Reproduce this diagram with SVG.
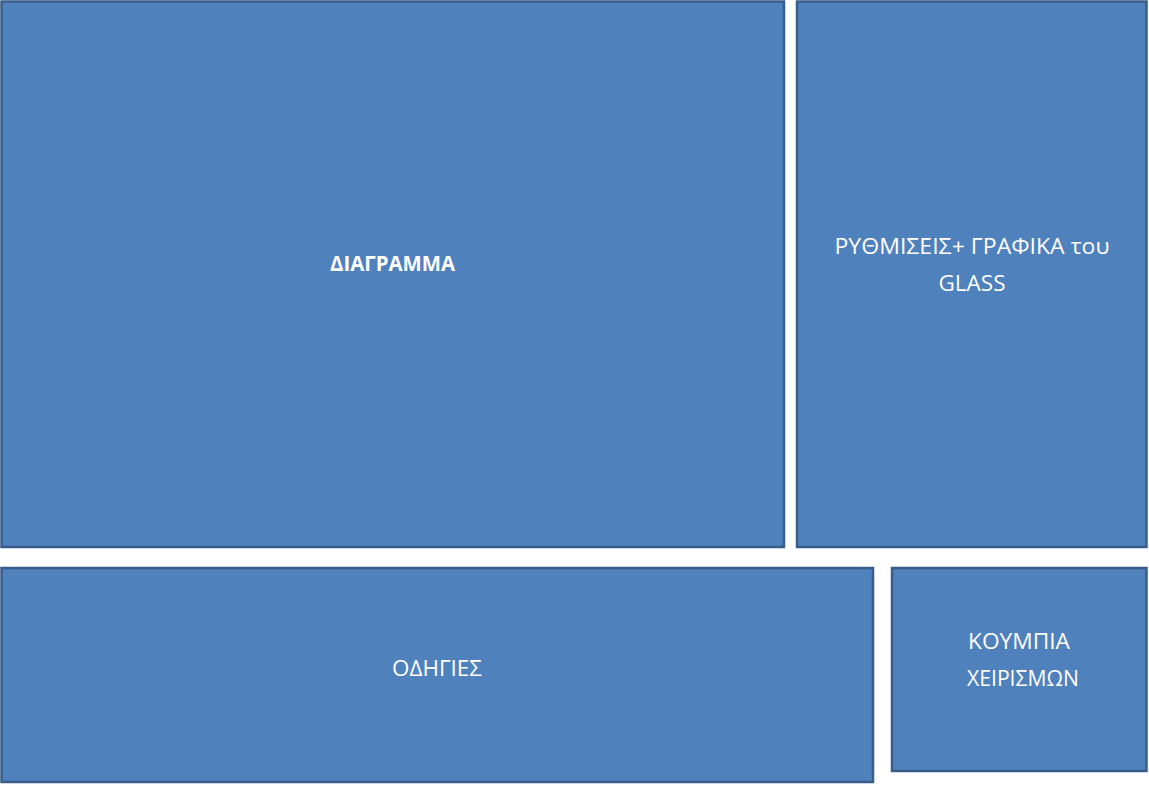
<svg xmlns="http://www.w3.org/2000/svg" width="1149" height="786" viewBox="0 0 1149 786">
<style>
.box{fill:#4F81BD;stroke:#385D8A;stroke-width:2.5}
.t{font-family:"Open Sans","Noto Sans","DejaVu Sans",sans-serif;font-size:21px;fill:#FFFFFF;text-anchor:middle}
.b{font-weight:bold}
</style>
<rect width="1149" height="786" fill="#FFFFFF"/>
<g id="diagramma">
<rect class="box" x="1.5" y="1.5" width="782.5" height="545.5"/>
<text class="t b" x="392.5" y="271" textLength="125" lengthAdjust="spacingAndGlyphs">ΔΙΑΓΡΑΜΜΑ</text>
</g>
<g id="rythmiseis">
<rect class="box" x="797" y="1.5" width="349.5" height="545.5"/>
<text class="t" x="972" y="254" textLength="275" lengthAdjust="spacingAndGlyphs">ΡΥΘΜΙΣΕΙΣ+ ΓΡΑΦΙΚΑ του</text>
<text class="t" x="972" y="291" textLength="67" lengthAdjust="spacingAndGlyphs">GLASS</text>
</g>
<g id="odigies">
<rect class="box" x="1.5" y="568" width="871.5" height="214"/>
<text class="t" x="437" y="676" textLength="90" lengthAdjust="spacingAndGlyphs">ΟΔΗΓΙΕΣ</text>
</g>
<g id="koumpia">
<rect class="box" x="892" y="568" width="254.5" height="203"/>
<text class="t" x="1019" y="649" textLength="102" lengthAdjust="spacingAndGlyphs">ΚΟΥΜΠΙΑ</text>
<text class="t" x="1023" y="686" textLength="112" lengthAdjust="spacingAndGlyphs">ΧΕΙΡΙΣΜΩΝ</text>
</g>
<g id="connectors"></g>
</svg>
